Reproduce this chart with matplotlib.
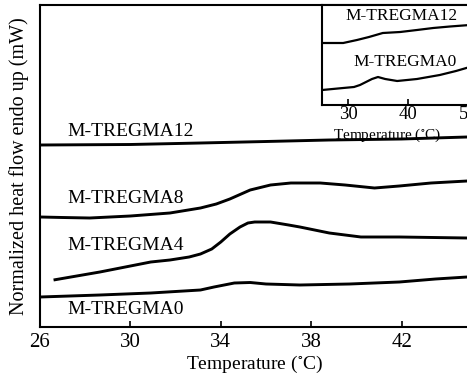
import matplotlib
matplotlib.use("Agg")
import matplotlib.pyplot as plt

plt.rcParams['font.family'] = ['Liberation Serif', 'DejaVu Serif']
plt.rcParams['mathtext.fontset'] = 'stix'

# main DSC traces (temperature in C, normalized heat flow, arbitrary offset units)
t12 = [26.0, 30.0, 33.1, 36.0, 38.8, 42.0, 44.9]
hf12 = [1.82, 1.825, 1.84, 1.855, 1.87, 1.88, 1.90]

t8 = [26.0, 27.0, 28.2, 30.0, 31.75, 33.1, 33.8, 34.4, 35.3, 36.2, 37.1, 38.4,
      39.5, 40.8, 41.9, 43.3, 44.9]
hf8 = [1.10, 1.095, 1.09, 1.11, 1.14, 1.19, 1.23, 1.28, 1.37, 1.42, 1.44, 1.44,
       1.42, 1.39, 1.41, 1.44, 1.46]

t4 = [26.6, 28.65, 30.0, 30.9, 31.75, 32.6, 33.1, 33.6, 34.0, 34.4, 34.85, 35.2,
      35.5, 36.2, 37.0, 37.5, 38.8, 40.2, 41.9, 44.9]
hf4 = [0.47, 0.55, 0.61, 0.65, 0.67, 0.70, 0.73, 0.78, 0.85, 0.93, 1.00, 1.04,
       1.05, 1.05, 1.02, 1.00, 0.94, 0.90, 0.90, 0.89]

t0 = [26.0, 28.65, 30.9, 33.1, 33.7, 34.6, 35.3, 36.0, 37.5, 39.7, 41.9, 43.5, 44.9]
hf0 = [0.30, 0.32, 0.34, 0.37, 0.40, 0.44, 0.445, 0.43, 0.42, 0.43, 0.45, 0.48, 0.50]

labels = ['M-TREGMA12', 'M-TREGMA8', 'M-TREGMA4', 'M-TREGMA0']
label_y = [1.96, 1.29, 0.82, 0.17]

# inset traces
it12 = [25.7, 29.2, 31.5, 33.5, 35.8, 38.7, 41.5, 44.2, 47.0, 50.3]
ihf12 = [0.62, 0.62, 0.65, 0.68, 0.72, 0.73, 0.75, 0.77, 0.785, 0.80]
it0 = [25.7, 29.2, 31.0, 32.0, 33.0, 34.0, 35.0, 36.2, 38.2, 41.5, 45.3, 48.0, 50.3]
ihf0 = [0.15, 0.17, 0.18, 0.20, 0.23, 0.26, 0.28, 0.26, 0.24, 0.26, 0.30, 0.34, 0.38]
inset_labels = ['M-TREGMA12', 'M-TREGMA0']
inset_label_y = [0.89, 0.43]

fig = plt.figure(figsize=(4.67, 3.80), dpi=100)
ax = fig.add_axes([40/467, 53/380, 430/467, 322/380])

for t, h in [(t12, hf12), (t8, hf8), (t4, hf4), (t0, hf0)]:
    ax.plot(t, h, color='black', lw=2.1, solid_capstyle='butt')
for lab, y in zip(labels, label_y):
    ax.text(27.2, y, lab, fontsize=14, va='center', ha='left')

ax.set_xlim(26, 26 + 430/22.6)
ax.set_ylim(0, 3.22)
ax.set_xticks([26, 30, 34, 38, 42])
ax.set_yticks([])
ax.tick_params(axis='x', direction='in', length=4, width=1.2, labelsize=15, pad=4)
for s in ax.spines.values():
    s.set_linewidth(1.5)
ax.set_xlabel('Temperature ($^{\\circ}$C)', fontsize=14, labelpad=2)
ax.set_ylabel('Normalized heat flow endo up (mW)', fontsize=14.5, labelpad=8)

# inset
ins = fig.add_axes([322/467, 275/380, 148/467, 100/380])
ins.plot(it12, ihf12, color='black', lw=1.6)
ins.plot(it0, ihf0, color='black', lw=1.6)
for lab, y in zip(inset_labels, inset_label_y):
    ins.text(48.2, y, lab, fontsize=12.5, va='center', ha='right')
ins.set_xlim(25.67, 25.67 + 148/6)
ins.set_ylim(0, 1)
ins.set_xticks([30, 40, 50])
ins.set_yticks([])
ins.tick_params(axis='x', direction='in', length=4, width=1.2, labelsize=13.5, pad=1)
for s in ins.spines.values():
    s.set_linewidth(1.5)
ins.set_xlabel('Temperature ($^{\\circ}$C)', fontsize=11, labelpad=-1)
ins.xaxis.set_label_coords(0.44, -0.22)

fig.savefig('out.png', dpi=100)
